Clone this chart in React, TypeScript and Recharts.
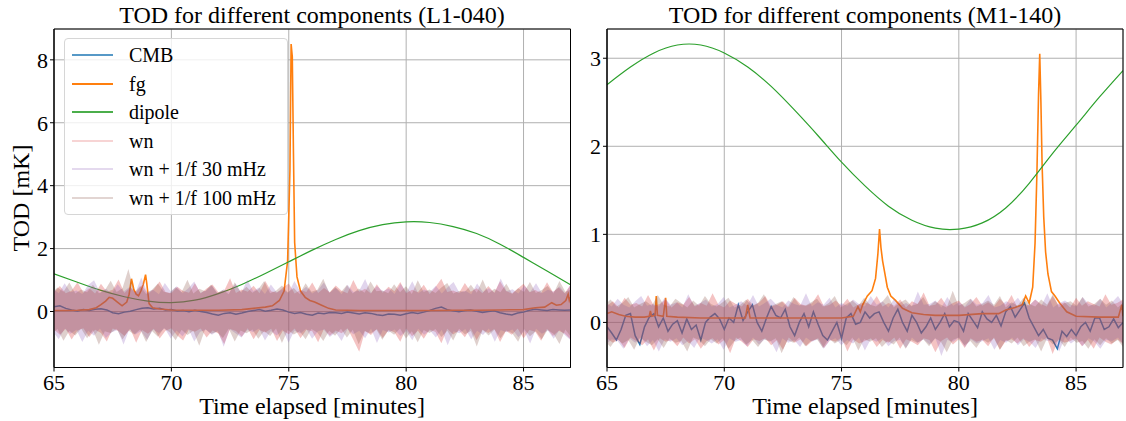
import React from "react";
import {
  Area,
  CartesianGrid,
  ComposedChart,
  Legend,
  Line,
  ReferenceArea,
  XAxis,
  YAxis,
} from "recharts";

const SERIF = '"Liberation Serif", "Times New Roman", serif';

const COLORS = {
  cmb: "#1f77b4",
  fg: "#ff7f0e",
  dipole: "#2ca02c",
  wn: "#d62728",
  wn30: "#9467bd",
  wn100: "#8c564b",
};

const xTicks = [65, 70, 75, 80, 85];
const leftYTicks = [0, 2, 4, 6, 8];
const rightYTicks = [0, 1, 2, 3];

// ---------- L1-040 ----------
const dipoleT = [65, 66, 67, 68, 69, 70, 71, 72, 73, 74, 75, 76, 77, 78, 79, 80, 81, 82, 83, 84, 85, 86, 87];
const dipoleL = [1.2, 0.93, 0.67, 0.47, 0.33, 0.28, 0.36, 0.57, 0.86, 1.21, 1.58, 1.95, 2.29, 2.57, 2.76, 2.85, 2.83, 2.7, 2.48, 2.14, 1.72, 1.29, 0.85];

const cmbL = [
  0.15, 0.18, 0.1, 0.05, 0.02, 0.06, 0.03, 0.07, 0.09, 0.05, -0.04, -0.07,
  -0.02, 0.01, 0.06, 0.1, 0.12, 0.08, 0.1, 0.05, 0.06, 0.02, 0.03, -0.01,
  0.04, 0.0, -0.03, -0.08, -0.12, -0.06, -0.04, -0.09, -0.05, 0.0, 0.03, 0.06,
  0.01, 0.04, 0.08, 0.05, -0.02, -0.06, -0.03, -0.09, -0.12, -0.05, -0.07, -0.03,
  -0.04, -0.06, -0.02, -0.05, -0.08, -0.04, -0.06, -0.1, -0.13, -0.08, -0.09, -0.12,
  -0.07, -0.03, -0.06, -0.02, 0.03, 0.1, 0.14, 0.06, 0.02, -0.01, 0.03, 0.05,
  0.01, -0.03, 0.0, 0.02, -0.04, -0.08, -0.11, -0.05, -0.02, 0.04, 0.07, 0.05,
  0.03, 0.06, 0.05, 0.04, 0.05,
];

const fgLT = [
  65, 65.5, 66, 66.5, 66.8, 67.0, 67.2, 67.35, 67.5, 67.7, 67.9, 68.1, 68.2, 68.3, 68.4, 68.5,
  68.6, 68.7, 68.8, 68.9, 68.95, 69.05, 69.2, 69.5, 70, 71, 72, 73, 73.5, 74, 74.3, 74.6,
  74.8, 74.95, 75.05, 75.1, 75.15, 75.2, 75.25, 75.35, 75.5, 75.7, 75.9, 76.1, 76.4, 76.7, 77, 78,
  79, 80, 81, 82, 83, 84, 85, 85.5, 85.9, 86.2, 86.4, 86.6, 86.8, 86.9, 86.95, 87,
];
const fgL = [
  0.03, 0.03, 0.04, 0.06, 0.12, 0.22, 0.33, 0.45, 0.42, 0.3, 0.18, 0.3, 0.55, 1.04, 0.7, 0.55,
  0.5, 0.65, 0.85, 1.17, 0.9, 0.25, 0.12, 0.08, 0.05, 0.04, 0.04, 0.06, 0.1, 0.14, 0.18, 0.35,
  0.65, 1.6, 4.5, 8.5, 8.1, 5.0, 2.2, 1.1, 0.65, 0.45, 0.35, 0.3, 0.2, 0.1, 0.05, 0.03,
  0.03, 0.03, 0.03, 0.04, 0.04, 0.05, 0.06, 0.12, 0.14, 0.28, 0.2, 0.22, 0.35, 0.55, 0.35, 0.45,
];

// noise envelopes: upper / lower edge of each noise run, every 0.25 min
const wnHiL = [
  0.62, 0.81, 0.58, 0.66, 0.93, 0.6, 0.74, 0.57, 0.88, 0.63, 0.69, 1.02, 0.59, 0.77, 0.61, 0.84, 0.56, 0.71, 0.95, 0.62,
  0.58, 0.79, 0.65, 0.6, 0.9, 0.57, 0.73, 0.86, 0.61, 0.66, 1.06, 0.59, 0.7, 0.63, 0.82, 0.58, 0.97, 0.64, 0.6, 0.76,
  0.89, 0.57, 0.68, 0.62, 0.92, 0.59, 0.75, 0.61, 0.83, 0.66, 0.58, 1.0, 0.63, 0.72, 0.57, 0.87, 0.6, 0.79, 0.64, 0.94,
  0.58, 0.69, 0.61, 0.85, 0.56, 0.78, 1.04, 0.62, 0.67, 0.59, 0.91, 0.63, 0.74, 0.58, 0.81, 0.6, 0.96, 0.65, 0.57, 0.72,
  0.88, 0.61, 0.68, 0.59, 0.93, 0.62, 0.76, 0.58, 0.84,
];
const wnLoL = [
  -0.57, -0.74, -0.55, -0.89, -0.6, -0.53, -0.81, -0.58, -0.68, -0.95, -0.54, -0.62, -0.78, -0.56, -0.99, -0.59, -0.71, -0.55, -0.86, -0.61,
  -0.53, -0.76, -0.92, -0.57, -0.64, -0.54, -0.83, -0.6, -0.7, -1.03, -0.56, -0.62, -0.8, -0.53, -0.88, -0.59, -0.67, -0.55, -0.94, -0.61,
  -0.72, -0.54, -0.85, -0.58, -0.63, -0.98, -0.55, -0.77, -0.6, -0.69, -0.53, -0.9, -1.28, -0.62, -0.75, -0.56, -0.84, -0.59, -0.66, -0.96,
  -0.54, -0.79, -0.61, -0.87, -0.57, -0.65, -1.01, -0.55, -0.73, -0.6, -0.82, -0.53, -0.91, -0.58, -0.68, -0.56, -0.97, -0.62, -0.74, -0.54,
  -0.86, -0.59, -0.64, -0.93, -0.55, -0.78, -0.61, -0.7, -0.88,
];
const wn30HiL = [
  0.73, 0.58, 0.9, 0.61, 0.67, 0.56, 0.84, 0.99, 0.6, 0.72, 0.57, 0.87, 0.63, 0.78, 0.59, 1.08, 0.62, 0.69, 0.55, 0.91,
  0.64, 0.8, 0.58, 0.74, 0.95, 0.6, 0.66, 0.83, 0.57, 0.71, 0.62, 0.89, 0.59, 1.01, 0.65, 0.76, 0.56, 0.86, 0.61, 0.7,
  0.58, 0.97, 0.63, 0.79, 0.57, 0.68, 0.92, 0.6, 0.75, 0.55, 0.85, 0.62, 0.67, 1.03, 0.59, 0.81, 0.64, 0.73, 0.56, 0.88,
  0.61, 0.96, 0.58, 0.7, 0.63, 0.82, 0.57, 0.77, 0.94, 0.6, 0.66, 0.55, 0.89, 0.62, 0.74, 0.59, 1.05, 0.64, 0.71, 0.57,
  0.83, 0.61, 0.9, 0.58, 0.69, 0.63, 0.8, 0.56, 0.92,
];
const wn30LoL = [
  -0.63, -0.88, -0.55, -0.71, -0.58, -0.97, -0.61, -0.77, -0.54, -0.84, -0.66, -0.59, -1.05, -0.56, -0.73, -0.62, -0.9, -0.57, -0.68, -0.53,
  -0.86, -0.6, -0.79, -0.55, -0.95, -0.64, -0.58, -0.74, -0.61, -1.12, -0.56, -0.69, -0.83, -0.59, -0.65, -0.54, -0.92, -0.62, -0.76, -0.57,
  -0.99, -0.6, -0.7, -0.55, -0.87, -0.63, -0.58, -0.81, -0.66, -0.94, -0.56, -0.72, -0.61, -0.85, -0.54, -1.0, -0.59, -0.67, -0.57, -0.78,
  -0.62, -0.91, -0.55, -0.74, -0.6, -0.83, -0.58, -1.07, -0.63, -0.69, -0.56, -0.88, -0.61, -0.75, -0.54, -0.96, -0.59, -0.66, -0.57, -0.82,
  -0.62, -1.02, -0.55, -0.71, -0.6, -0.87, -0.58, -0.77, -0.93,
];
const wn100HiL = [
  0.59, 0.76, 0.63, 0.92, 0.57, 0.7, 0.61, 0.85, 0.58, 0.67, 0.98, 0.62, 0.74, 1.35, 0.6, 0.81, 0.56, 0.69, 0.89, 0.63,
  0.58, 0.77, 0.61, 1.01, 0.57, 0.72, 0.64, 0.86, 0.59, 0.68, 0.55, 0.93, 0.62, 0.79, 0.6, 0.71, 0.97, 0.58, 0.66, 0.83,
  0.61, 0.75, 0.56, 0.9, 0.63, 0.69, 1.04, 0.59, 0.78, 0.62, 0.84, 0.57, 0.73, 0.6, 0.95, 0.64, 0.67, 0.58, 0.87, 0.61,
  0.8, 0.56, 0.99, 0.62, 0.7, 0.59, 0.76, 0.91, 0.57, 0.65, 0.63, 0.85, 0.6, 1.02, 0.58, 0.72, 0.61, 0.88, 0.56, 0.74,
  0.62, 0.94, 0.59, 0.68, 0.81, 0.57, 0.97, 0.63, 0.7,
];
const wn100LoL = [
  -0.7, -0.56, -0.93, -0.61, -0.76, -0.54, -0.85, -0.59, -1.06, -0.63, -0.68, -0.55, -0.89, -0.6, -0.73, -0.57, -0.97, -0.62, -0.8, -0.53,
  -0.66, -0.91, -0.58, -0.75, -0.61, -1.09, -0.56, -0.71, -0.64, -0.84, -0.55, -0.95, -0.6, -0.69, -0.57, -0.87, -0.62, -0.78, -0.54, -1.0,
  -0.59, -0.73, -0.63, -0.88, -0.56, -0.67, -0.94, -0.61, -0.77, -0.55, -0.83, -0.58, -1.04, -0.62, -0.7, -0.57, -0.9, -0.6, -0.74, -0.54,
  -0.86, -0.63, -0.98, -0.59, -0.68, -0.56, -0.81, -0.61, -0.92, -0.55, -0.72, -0.62, -1.11, -0.58, -0.76, -0.57, -0.85, -0.6, -0.69, -0.96,
  -0.56, -0.79, -0.63, -0.88, -0.59, -0.71, -1.03, -0.57, -0.82,
];

// ---------- M1-140 ----------
const dipoleR = [2.7, 2.9, 3.06, 3.15, 3.15, 3.06, 2.9, 2.68, 2.41, 2.12, 1.82, 1.55, 1.32, 1.16, 1.07, 1.06, 1.13, 1.3, 1.58, 1.92, 2.24, 2.56, 2.86];

const cmbR = [
  -0.05, -0.12, -0.2, -0.08, 0.08, 0.1, -0.15, -0.25, -0.05, 0.06,
  0.1, -0.05, 0.05, -0.1, -0.02, 0.02, -0.12, 0.04, -0.08, -0.03,
  -0.2, 0.0, 0.06, 0.1, 0.04, -0.08, 0.05, 0.0, 0.2, 0.02,
  0.12, 0.2, 0.0, -0.1, 0.05, 0.18, 0.08, 0.05, 0.15, -0.05,
  -0.15, 0.0, 0.1, -0.05, 0.12, -0.02, -0.15, -0.2, -0.1, 0.0,
  -0.18, 0.05, 0.1, -0.02, 0.0, 0.12, 0.05, 0.1, 0.12, 0.0,
  -0.1, 0.05, 0.15, 0.0, -0.1, 0.08, 0.0, -0.12, -0.05, 0.05,
  -0.08, 0.0, 0.1, -0.05, 0.02, 0.0, -0.1, 0.1, 0.02, -0.06,
  0.12, 0.04, 0.0, 0.08, -0.04, 0.12, 0.18, 0.06, 0.14, 0.22,
  0.05, -0.05, -0.15, -0.08, -0.18, -0.2, -0.3, -0.1, -0.16, -0.08,
  -0.15, -0.05, 0.0, -0.1, 0.05, 0.05, -0.08, -0.05, 0.04, -0.06,
  0.0,
];

const fgRT = [
  65, 65.2, 65.5, 65.8, 66.2, 66.6, 66.8, 66.85, 66.9, 67.05, 67.1, 67.15, 67.4, 67.5, 67.55, 68,
  69, 70, 70.9, 71.0, 71.1, 72, 73, 74, 75, 75.5, 75.7, 75.8, 75.9, 76.1, 76.3, 76.45,
  76.55, 76.62, 76.68, 76.75, 76.85, 76.95, 77.1, 77.3, 77.6, 78, 78.5, 79, 80, 81, 81.7, 82,
  82.4, 82.7, 82.85, 83.0, 83.15, 83.25, 83.33, 83.4, 83.45, 83.5, 83.55, 83.62, 83.7, 83.8, 83.95, 84.1,
  84.3, 84.6, 85, 86, 86.8, 86.95, 87,
];
const fgR = [
  0.1, 0.12, 0.09, 0.07, 0.06, 0.06, 0.07, 0.13, 0.07, 0.08, 0.3, 0.08, 0.07, 0.28, 0.07, 0.06,
  0.05, 0.05, 0.05, 0.2, 0.05, 0.05, 0.05, 0.05, 0.05, 0.07, 0.18, 0.12, 0.2, 0.3, 0.36, 0.5,
  0.78, 1.06, 0.85, 0.7, 0.55, 0.4, 0.3, 0.25, 0.16, 0.11, 0.09, 0.08, 0.08, 0.1, 0.1, 0.14,
  0.17, 0.2, 0.3, 0.22, 0.4, 0.9, 1.7, 2.6, 3.05, 2.5, 1.8, 1.2, 0.8, 0.55, 0.35, 0.3,
  0.22, 0.12, 0.07, 0.06, 0.06, 0.2, 0.07,
];

const wnHiR = [
  0.19, 0.24, 0.17, 0.28, 0.2, 0.22, 0.18, 0.31, 0.19, 0.21, 0.26, 0.17, 0.23, 0.2, 0.29, 0.18, 0.22, 0.19, 0.33, 0.2,
  0.17, 0.25, 0.21, 0.18, 0.27, 0.19, 0.23, 0.3, 0.18, 0.2, 0.24, 0.17, 0.28, 0.21, 0.19, 0.22, 0.32, 0.18, 0.2, 0.25,
  0.19, 0.27, 0.17, 0.21, 0.23, 0.2, 0.3, 0.18, 0.22, 0.19, 0.26, 0.17, 0.24, 0.21, 0.34, 0.19, 0.2, 0.28, 0.18, 0.22,
  0.25, 0.17, 0.21, 0.29, 0.19, 0.23, 0.18, 0.27, 0.2, 0.31, 0.17, 0.22, 0.19, 0.26, 0.21, 0.18, 0.3, 0.2, 0.23, 0.17,
  0.28, 0.19, 0.24, 0.21, 0.18, 0.32, 0.2, 0.22, 0.26,
];
const wnLoR = [
  -0.18, -0.23, -0.2, -0.29, -0.17, -0.21, -0.26, -0.19, -0.32, -0.18, -0.22, -0.2, -0.27, -0.17, -0.24, -0.19, -0.3, -0.21, -0.18, -0.25,
  -0.2, -0.35, -0.17, -0.22, -0.28, -0.19, -0.21, -0.18, -0.26, -0.2, -0.31, -0.17, -0.23, -0.19, -0.27, -0.21, -0.18, -0.29, -0.2, -0.22,
  -0.17, -0.33, -0.19, -0.24, -0.21, -0.18, -0.28, -0.2, -0.23, -0.17, -0.3, -0.19, -0.22, -0.26, -0.18, -0.2, -0.34, -0.21, -0.17, -0.25,
  -0.19, -0.29, -0.18, -0.22, -0.2, -0.27, -0.17, -0.31, -0.21, -0.19, -0.24, -0.18, -0.28, -0.2, -0.22, -0.17, -0.36, -0.19, -0.23, -0.21,
  -0.18, -0.27, -0.2, -0.3, -0.17, -0.22, -0.25, -0.19, -0.24,
];
const wn30HiR = [
  0.22, 0.18, 0.27, 0.2, 0.17, 0.24, 0.3, 0.19, 0.21, 0.18, 0.28, 0.2, 0.23, 0.17, 0.32, 0.19, 0.22, 0.26, 0.18, 0.21,
  0.29, 0.17, 0.2, 0.24, 0.19, 0.31, 0.18, 0.22, 0.27, 0.2, 0.17, 0.25, 0.21, 0.19, 0.33, 0.18, 0.23, 0.2, 0.28, 0.17,
  0.22, 0.19, 0.26, 0.21, 0.18, 0.3, 0.2, 0.24, 0.17, 0.27, 0.19, 0.22, 0.18, 0.35, 0.2, 0.21, 0.25, 0.17, 0.29, 0.19,
  0.23, 0.18, 0.27, 0.2, 0.22, 0.31, 0.17, 0.19, 0.24, 0.21, 0.28, 0.18, 0.2, 0.26, 0.19, 0.33, 0.17, 0.22, 0.25, 0.2,
  0.18, 0.29, 0.21, 0.19, 0.27, 0.17, 0.23, 0.3, 0.2,
];
const wn30LoR = [
  -0.25, -0.19, -0.21, -0.3, -0.18, -0.23, -0.17, -0.27, -0.2, -0.33, -0.19, -0.22, -0.18, -0.26, -0.21, -0.29, -0.17, -0.2, -0.24, -0.19,
  -0.31, -0.18, -0.22, -0.2, -0.27, -0.17, -0.25, -0.19, -0.21, -0.34, -0.18, -0.23, -0.2, -0.28, -0.17, -0.22, -0.19, -0.3, -0.21, -0.18,
  -0.26, -0.2, -0.24, -0.17, -0.32, -0.19, -0.22, -0.18, -0.27, -0.21, -0.2, -0.29, -0.17, -0.23, -0.19, -0.25, -0.18, -0.38, -0.2, -0.22,
  -0.17, -0.28, -0.19, -0.24, -0.21, -0.18, -0.31, -0.2, -0.23, -0.17, -0.26, -0.19, -0.22, -0.29, -0.18, -0.21, -0.2, -0.33, -0.17, -0.24,
  -0.19, -0.27, -0.18, -0.22, -0.3, -0.2, -0.21, -0.17, -0.26,
];
const wn100HiR = [
  0.2, 0.26, 0.18, 0.22, 0.29, 0.17, 0.21, 0.24, 0.19, 0.31, 0.2, 0.18, 0.27, 0.22, 0.17, 0.25, 0.19, 0.3, 0.21, 0.18,
  0.23, 0.28, 0.17, 0.2, 0.26, 0.19, 0.22, 0.32, 0.18, 0.21, 0.24, 0.17, 0.29, 0.2, 0.19, 0.23, 0.27, 0.18, 0.22, 0.3,
  0.17, 0.21, 0.25, 0.19, 0.28, 0.2, 0.18, 0.23, 0.31, 0.17, 0.22, 0.26, 0.19, 0.21, 0.29, 0.18, 0.24, 0.2, 0.17, 0.36,
  0.19, 0.22, 0.27, 0.18, 0.21, 0.25, 0.2, 0.3, 0.17, 0.23, 0.19, 0.28, 0.21, 0.18, 0.26, 0.2, 0.32, 0.17, 0.22, 0.24,
  0.19, 0.29, 0.18, 0.21, 0.27, 0.2, 0.25, 0.17, 0.23,
];
const wn100LoR = [
  -0.21, -0.28, -0.18, -0.24, -0.2, -0.31, -0.17, -0.22, -0.26, -0.19, -0.29, -0.18, -0.23, -0.21, -0.33, -0.17, -0.2, -0.27, -0.19, -0.24,
  -0.18, -0.3, -0.21, -0.17, -0.25, -0.2, -0.28, -0.19, -0.22, -0.18, -0.35, -0.2, -0.23, -0.17, -0.27, -0.21, -0.19, -0.29, -0.18, -0.24,
  -0.2, -0.26, -0.17, -0.32, -0.19, -0.22, -0.18, -0.28, -0.21, -0.25, -0.17, -0.3, -0.2, -0.23, -0.19, -0.27, -0.18, -0.22, -0.34, -0.2,
  -0.17, -0.26, -0.21, -0.29, -0.19, -0.23, -0.18, -0.31, -0.2, -0.24, -0.17, -0.27, -0.22, -0.19, -0.33, -0.18, -0.25, -0.2, -0.28, -0.17,
  -0.23, -0.21, -0.3, -0.19, -0.26, -0.18, -0.24, -0.2, -0.29,
];

// sample times; the three noise runs are sampled on slightly staggered grids
const grid = (start: number, step: number, n: number) =>
  Array.from({ length: n }, (_, i) => +(start + i * step).toFixed(3));
const cmbLT = grid(65, 0.25, cmbL.length);
const cmbRT = grid(65, 0.2, cmbR.length);
const wnT = grid(65, 0.25, 89);
const wn30T = grid(64.95, 0.251, 89);
const wn100T = grid(64.9, 0.2515, 89);

const pts = (t: number[], v: number[]) => t.map((x, i) => ({ t: x, v: v[i] }));
const band = (t: number[], lo: number[], hi: number[]) =>
  t.map((x, i) => ({ t: x, r: [lo[i], hi[i]] }));

const legendItems = [
  { name: "CMB", color: COLORS.cmb, opacity: 0.75 },
  { name: "fg", color: COLORS.fg, opacity: 1 },
  { name: "dipole", color: COLORS.dipole, opacity: 0.85 },
  { name: "wn", color: COLORS.wn, opacity: 0.2 },
  { name: "wn + 1/f 30 mHz", color: COLORS.wn30, opacity: 0.25 },
  { name: "wn + 1/f 100 mHz", color: COLORS.wn100, opacity: 0.25 },
];

const LegendBox = () => (
  <div
    style={{
      position: "relative",
      width: 224,
      height: 177,
      boxSizing: "border-box",
      border: "1px solid #d6d6d6",
      borderRadius: 4,
      background: "rgba(255,255,255,0.8)",
      fontFamily: SERIF,
      fontSize: 20,
    }}
  >
    {legendItems.map((it, i) => (
      <div
        key={it.name}
        style={{ position: "absolute", left: 0, top: 2 + i * 28.6, height: 28, width: 222 }}
      >
        <div
          style={{
            position: "absolute",
            left: 7,
            top: 13,
            width: 41,
            height: 2,
            background: it.color,
            opacity: it.opacity,
          }}
        />
        <div style={{ position: "absolute", left: 64, top: 0, lineHeight: "28px", whiteSpace: "nowrap" }}>
          {it.name}
        </div>
      </div>
    ))}
  </div>
);

type PanelProps = {
  left: number;
  width: number;
  margin: { top: number; right: number; bottom: number; left: number };
  yWidth: number;
  yDomain: [number, number];
  yTicks: number[];
  dipole: number[];
  cmbT: number[];
  cmb: number[];
  fgT: number[];
  fg: number[];
  noise: { t: number[]; lo: number[]; hi: number[]; color: string }[];
  legend?: boolean;
};

const Panel = (p: PanelProps) => {
  const tickStyle = { fontFamily: SERIF, fontSize: 22, fill: "#000" };
  return (
    <div style={{ position: "absolute", left: p.left, top: 0 }}>
      <ComposedChart width={p.width} height={421} margin={p.margin}>
        <CartesianGrid stroke="#b0b0b0" strokeWidth={1} />
        <XAxis
          dataKey="t"
          type="number"
          domain={[65, 87]}
          ticks={xTicks}
          allowDataOverflow
          height={30}
          tickSize={4}
          tickMargin={3}
          tick={tickStyle}
          axisLine={{ stroke: "#000" }}
          tickLine={{ stroke: "#000" }}
        />
        <YAxis
          type="number"
          domain={p.yDomain}
          ticks={p.yTicks}
          allowDataOverflow
          width={p.yWidth}
          tickSize={4}
          tickMargin={2}
          tick={tickStyle}
          axisLine={{ stroke: "#000" }}
          tickLine={{ stroke: "#000" }}
        />
        <Line
          data={pts(p.cmbT, p.cmb)}
          dataKey="v"
          name="CMB"
          type="linear"
          stroke={COLORS.cmb}
          strokeWidth={1.5}
          dot={false}
          activeDot={false}
          isAnimationActive={false}
        />
        <Line
          data={pts(p.fgT, p.fg)}
          dataKey="v"
          name="fg"
          type="linear"
          stroke={COLORS.fg}
          strokeWidth={1.6}
          dot={false}
          activeDot={false}
          isAnimationActive={false}
        />
        <Line
          data={pts(dipoleT, p.dipole)}
          dataKey="v"
          name="dipole"
          type="natural"
          stroke={COLORS.dipole}
          strokeWidth={1.2}
          dot={false}
          activeDot={false}
          isAnimationActive={false}
        />
        {/* noise runs are plotted last in the original, so they sit over the lines */}
        {p.noise.map((n, i) => (
          <Area
            key={i}
            data={band(n.t, n.lo, n.hi)}
            dataKey="r"
            type="linear"
            stroke="none"
            fill={n.color}
            fillOpacity={0.28}
            dot={false}
            activeDot={false}
            isAnimationActive={false}
            zIndex={500}
          />
        ))}
        <ReferenceArea
          x1={65}
          x2={87}
          y1={p.yDomain[0]}
          y2={p.yDomain[1]}
          fill="none"
          stroke="#000"
          strokeWidth={1}
          ifOverflow="visible"
          zIndex={700}
        />
        {p.legend && (
          <Legend
            layout="vertical"
            align="center"
            verticalAlign="middle"
            wrapperStyle={{ left: 64, top: 38, width: 224, height: 177 }}
            content={() => <LegendBox />}
          />
        )}
      </ComposedChart>
    </div>
  );
};

export default function App() {
  return (
    <div style={{ position: "fixed", left: 0, top: 0, width: 1126, height: 421, background: "#fff" }}>
      <Panel
        left={0}
        width={580}
        margin={{ top: 29, right: 9.5, bottom: 23.5, left: 20 }}
        yWidth={34}
        yDomain={[-1.78, 8.98]}
        yTicks={leftYTicks}
        dipole={dipoleL}
        cmbT={cmbLT}
        cmb={cmbL}
        fgT={fgLT}
        fg={fgL}
        noise={[
          { t: wnT, lo: wnLoL, hi: wnHiL, color: COLORS.wn },
          { t: wn30T, lo: wn30LoL, hi: wn30HiL, color: COLORS.wn30 },
          { t: wn100T, lo: wn100LoL, hi: wn100HiL, color: COLORS.wn100 },
        ]}
        legend
      />
      <Panel
        left={560}
        width={566}
        margin={{ top: 29, right: 3, bottom: 23.5, left: 17 }}
        yWidth={30}
        yDomain={[-0.512, 3.332]}
        yTicks={rightYTicks}
        dipole={dipoleR}
        cmbT={cmbRT}
        cmb={cmbR}
        fgT={fgRT}
        fg={fgR}
        noise={[
          { t: wnT, lo: wnLoR, hi: wnHiR, color: COLORS.wn },
          { t: wn30T, lo: wn30LoR, hi: wn30HiR, color: COLORS.wn30 },
          { t: wn100T, lo: wn100LoR, hi: wn100HiR, color: COLORS.wn100 },
        ]}
      />
      <svg
        width={1126}
        height={421}
        style={{ position: "absolute", left: 0, top: 0, pointerEvents: "none" }}
        fontFamily={SERIF}
        fontSize={24}
      >
        <text x={312} y={23} textAnchor="middle">TOD for different components (L1-040)</text>
        <text x={865} y={23} textAnchor="middle">TOD for different components (M1-140)</text>
        <text x={312} y={414} textAnchor="middle">Time elapsed [minutes]</text>
        <text x={865} y={414} textAnchor="middle">Time elapsed [minutes]</text>
        <text x={29} y={198} textAnchor="middle" transform="rotate(-90 29 198)">TOD [mK]</text>
      </svg>
    </div>
  );
}
